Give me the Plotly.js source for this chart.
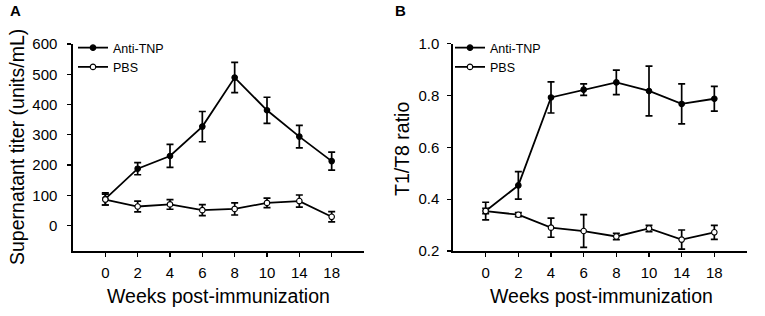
<!DOCTYPE html>
<html>
<head>
<meta charset="utf-8">
<script src="https://cdn.plot.ly/plotly-3.0.1.min.js"></script>
<style>html,body{margin:0;padding:0;background:#fff;}#chart{width:765px;height:316px;}</style>
</head>
<body>
<div id="chart"></div>
<script>
const weeks = ['0','2','4','6','8','10','14','18'];

// Panel A: supernatant titer (units/mL)
const titerAnti = [88, 188, 230, 327, 489, 381, 294, 213];
const titerAntiErr = [20, 20, 38, 50, 50, 43, 37, 30];
const titerPBS = [86, 63, 70, 51, 55, 75, 81, 29];
const titerPBSErr = [18, 18, 16, 18, 20, 16, 20, 17];

// Panel B: T1/T8 ratio
const ratioAnti = [0.354, 0.453, 0.792, 0.822, 0.850, 0.817, 0.767, 0.787];
const ratioAntiErr = [0.034, 0.053, 0.060, 0.022, 0.047, 0.096, 0.077, 0.048];
const ratioPBS = [0.354, 0.340, 0.290, 0.277, 0.256, 0.287, 0.244, 0.272];
const ratioPBSErr = [0.010, 0.008, 0.037, 0.063, 0.012, 0.012, 0.037, 0.027];

const seriesNames = ['Anti-TNP', 'PBS'];

const FONT = 'Liberation Sans, Arial, sans-serif';

function trace(y, err, name, filled, xa, ya, legend) {
  return {
    x: weeks, y: y, name: name, type: 'scatter', mode: 'lines+markers',
    xaxis: xa, yaxis: ya, legend: legend, showlegend: true,
    line: {color: '#000', width: 1.8},
    marker: {symbol: 'circle', size: 5.5, color: filled ? '#000' : '#fff', line: {color: '#000', width: 1.1}},
    error_y: {type: 'data', array: err, visible: true, color: '#000', thickness: 1.7, width: 3.5}
  };
}

const data = [
  trace(titerAnti, titerAntiErr, seriesNames[0], true, 'x', 'y', 'legend'),
  trace(titerPBS, titerPBSErr, seriesNames[1], false, 'x', 'y', 'legend'),
  trace(ratioAnti, ratioAntiErr, seriesNames[0], true, 'x2', 'y2', 'legend2'),
  trace(ratioPBS, ratioPBSErr, seriesNames[1], false, 'x2', 'y2', 'legend2')
];

const xCommon = {
  type: 'category', range: [-1, 8], showline: true, linecolor: '#000', linewidth: 1.6,
  ticks: 'outside', ticklen: 4, tickwidth: 1.2, tickcolor: '#000', showgrid: false, zeroline: false,
  tickfont: {family: FONT, size: 15, color: '#000'}, ticklabelstandoff: 3, fixedrange: true
};
const yCommon = {
  showline: true, linecolor: '#000', linewidth: 1.6,
  ticks: 'outside', ticklen: 4, tickwidth: 1.2, tickcolor: '#000', showgrid: false, zeroline: false,
  tickfont: {family: FONT, size: 15, color: '#000'}, fixedrange: true
};

const W = 765, H = 316;
function px(x) { return x / W; }
function py(y) { return 1 - y / H; }

const legendCommon = {
  xref: 'paper', yref: 'paper', xanchor: 'left', yanchor: 'top',
  bgcolor: 'rgba(0,0,0,0)', borderwidth: 0,
  font: {family: FONT, size: 12.5, color: '#000'},
  itemwidth: 30, tracegroupgap: 0
};

const layout = {
  width: W, height: H,
  margin: {l: 0, r: 0, t: 0, b: 0},
  paper_bgcolor: '#fff', plot_bgcolor: '#fff',
  showlegend: true,
  font: {family: FONT, color: '#000'},
  legend: Object.assign({}, legendCommon, {x: px(73), y: py(33)}),
  legend2: Object.assign({}, legendCommon, {x: px(450), y: py(33)}),
  xaxis: Object.assign({}, xCommon, {domain: [px(73), px(364)], anchor: 'y'}),
  yaxis: Object.assign({}, yCommon, {domain: [py(251), py(44)], range: [-84, 600], tickvals: [0,100,200,300,400,500,600], anchor: 'x', ticklabelstandoff: 7}),
  xaxis2: Object.assign({}, xCommon, {domain: [px(453), px(747)], anchor: 'y2'}),
  yaxis2: Object.assign({}, yCommon, {domain: [py(251), py(43.5)], range: [0.2, 1.0], tickvals: [0.2,0.4,0.6,0.8,1.0], ticktext: ['0.2','0.4','0.6','0.8','1.0'], anchor: 'x2', ticklabelstandoff: 5}),
  annotations: [
    {text: '<b>A</b>', x: px(16), y: py(11), xref: 'paper', yref: 'paper', xanchor: 'center', yanchor: 'middle', showarrow: false, font: {family: FONT, size: 15}},
    {text: '<b>B</b>', x: px(400), y: py(11), xref: 'paper', yref: 'paper', xanchor: 'center', yanchor: 'middle', showarrow: false, font: {family: FONT, size: 15}},
    {text: 'Supernatant titer (units/mL)', textangle: -90, x: px(17), y: py(147), xref: 'paper', yref: 'paper', xanchor: 'center', yanchor: 'middle', showarrow: false, font: {family: FONT, size: 19.5}},
    {text: 'T1/T8 ratio', textangle: -90, x: px(402), y: py(149), xref: 'paper', yref: 'paper', xanchor: 'center', yanchor: 'middle', showarrow: false, font: {family: FONT, size: 19.5}},
    {text: 'Weeks post-immunization', x: px(218.5), y: py(296), xref: 'paper', yref: 'paper', xanchor: 'center', yanchor: 'middle', showarrow: false, font: {family: FONT, size: 19.5}},
    {text: 'Weeks post-immunization', x: px(601), y: py(296), xref: 'paper', yref: 'paper', xanchor: 'center', yanchor: 'middle', showarrow: false, font: {family: FONT, size: 19.5}}
  ]
};

Plotly.newPlot('chart', data, layout, {staticPlot: true, displayModeBar: false});
</script>
</body>
</html>
